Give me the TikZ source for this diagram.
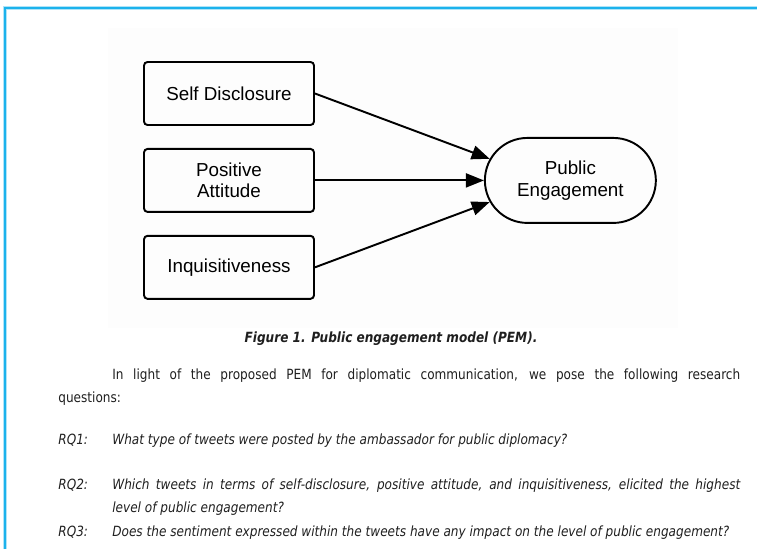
\documentclass[tikz,border=0pt]{standalone}
\usepackage{fontspec}
\setmainfont{DejaVu Sans}[FakeStretch=0.86]
\newfontfamily\arialfont{Liberation Sans}
\usepackage{xcolor}
\usetikzlibrary{shapes.misc,arrows.meta,positioning,calc}
\definecolor{pageblue}{RGB}{28,178,236}
\definecolor{figback}{RGB}{253,253,253}

\begin{document}
\begin{tikzpicture}[
    x=0.02cm, y=-0.02cm,
    node distance=0.44cm,
    box/.style={rectangle, rounded corners=2pt, draw, line width=1.1pt, minimum width=3.4cm, minimum height=1.26cm, inner sep=0pt, align=center, font=\arialfont\fontsize{10.7}{12.3}\selectfont},
    pill/.style={rounded rectangle, draw, line width=1.1pt, minimum width=3.42cm, minimum height=1.7cm, inner sep=0pt, align=center, font=\arialfont\fontsize{10.7}{12.3}\selectfont},
    arrow/.style={-{Triangle[length=0.36cm, width=0.28cm]}, line width=1.1pt},
    body/.style={inner sep=0pt, text=black!88, font=\fontsize{8}{13.04}\selectfont},
    rqlabel/.style={body, font=\itshape\fontsize{8}{13.04}\selectfont}
]
    \useasboundingbox (0,0) rectangle (757,549);
    % page frame and figure background
    \draw[pageblue!35, line width=0.08cm] (5,549) -- (5,8) -- (757,8);
    \draw[pageblue, line width=0.04cm] (5,549) -- (5,8) -- (757,8);
    \fill[figback] (108,28) rectangle (678,328);

    % model
    \node[box] (selfdisc) at (229,93.5) {Self Disclosure};
    \node[box, below=of selfdisc] (posatt) {Positive\\Attitude};
    \node[box, below=of posatt] (inquis) {Inquisitiveness};
    \node[pill, right=3.38cm of posatt] (engage) {Public\\Engagement};

    \draw[arrow] (selfdisc.east) -- (engage.165);
    \draw[arrow] (posatt) -- (engage);
    \draw[arrow] (inquis.east) -- (engage.195);

    % caption and text
    \node[body, font=\bfseries\itshape\fontsize{8}{9}\selectfont, anchor=base] (caption) at (391,342) {Figure 1. Public engagement model (PEM).};
    \node[body, anchor=north west, text width=13.64cm, align=justify] (intro) at (58,368.5)
        {\hspace*{1.08cm}In light of the proposed PEM for diplomatic communication, we pose the following research\linebreak questions:};

    \node[rqlabel, anchor=base west] (rqone) at (58,444) {RQ1:};
    \node[rqlabel, anchor=base west] (qone) at (112,444) {What type of tweets were posted by the ambassador for public diplomacy?};
    \node[rqlabel, anchor=base west] (rqtwo) at (58,489) {RQ2:};
    \node[rqlabel, anchor=north west, text width=12.56cm, align=justify] (qtwo) at (112,478.5)
        {Which tweets in terms of self-disclosure, positive attitude, and inquisitiveness, elicited the highest\linebreak level of public engagement?};
    \node[rqlabel, anchor=base west] (rqthree) at (58,536) {RQ3:};
    \node[rqlabel, anchor=base west] (qthree) at (112,536) {Does the sentiment expressed within the tweets have any impact on the level of public engagement?};
\end{tikzpicture}
\end{document}
